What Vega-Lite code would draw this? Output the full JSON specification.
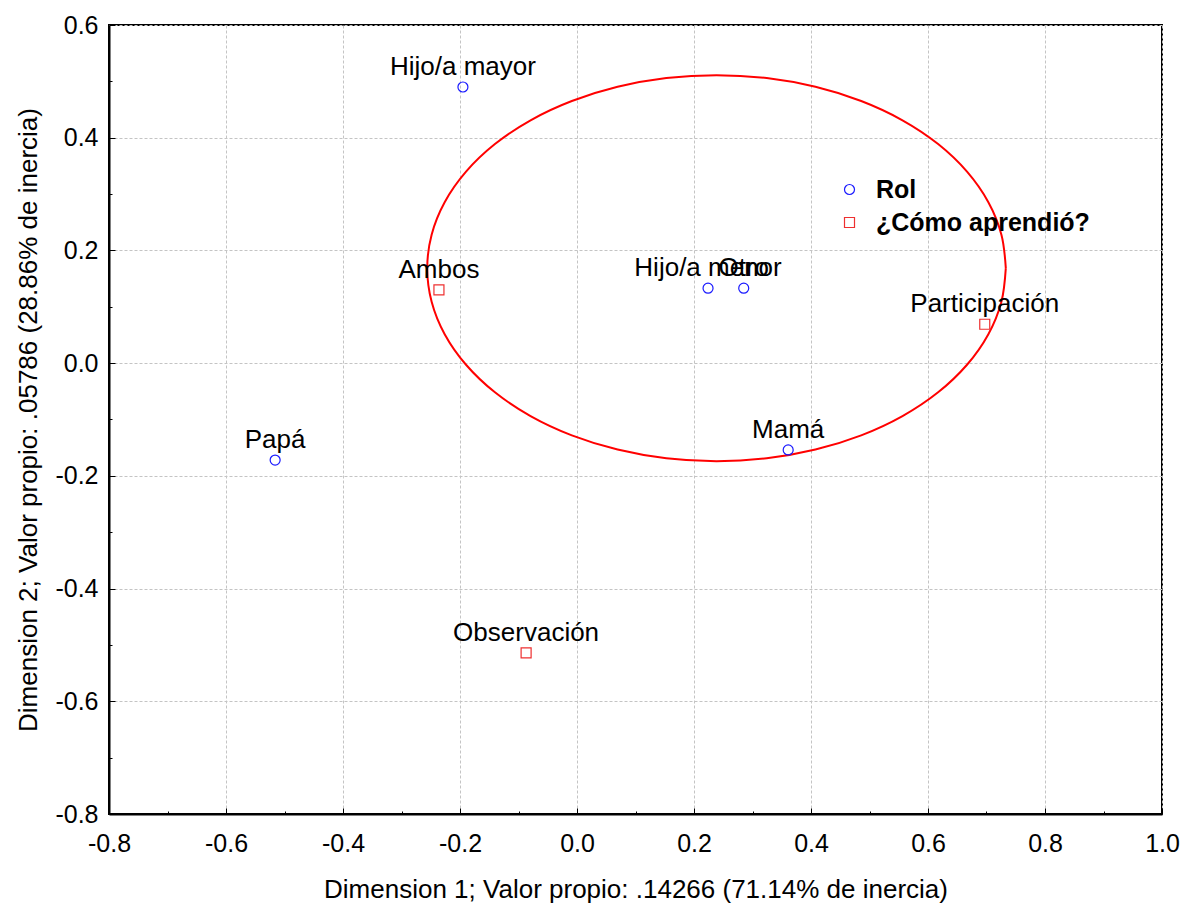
{
  "$schema": "https://vega.github.io/schema/vega-lite/v6.json",
  "width": 1053,
  "height": 789,
  "autosize": {"type": "none"},
  "padding": {"left": 109, "top": 25, "right": 22, "bottom": 91},
  "background": "white",
  "config": {
    "font": "Liberation Sans",
    "view": {"stroke": "#000000", "strokeWidth": 2},
    "axis": {
      "domainColor": "#000000",
      "domainWidth": 2,
      "tickColor": "#000000",
      "tickWidth": 1,
      "gridColor": "#c4c4c4",
      "gridDash": [3, 2],
      "gridWidth": 1,
      "labelFont": "Liberation Sans",
      "labelFontSize": 25,
      "labelColor": "#000000",
      "titleFont": "Liberation Sans",
      "titleFontSize": 26,
      "titleFontWeight": "normal",
      "titleColor": "#000000"
    }
  },
  "datasets": {
    "ellipse": [
      {"i": 0, "x": 0.7330, "y": 0.1685},
      {"i": 1, "x": 0.7255, "y": 0.2280},
      {"i": 2, "x": 0.7032, "y": 0.2856},
      {"i": 3, "x": 0.6667, "y": 0.3398},
      {"i": 4, "x": 0.6173, "y": 0.3887},
      {"i": 5, "x": 0.5564, "y": 0.4309},
      {"i": 6, "x": 0.4858, "y": 0.4651},
      {"i": 7, "x": 0.4076, "y": 0.4903},
      {"i": 8, "x": 0.3243, "y": 0.5058},
      {"i": 9, "x": 0.2385, "y": 0.5110},
      {"i": 10, "x": 0.1527, "y": 0.5058},
      {"i": 11, "x": 0.0694, "y": 0.4903},
      {"i": 12, "x": -0.0088, "y": 0.4651},
      {"i": 13, "x": -0.0794, "y": 0.4309},
      {"i": 14, "x": -0.1403, "y": 0.3887},
      {"i": 15, "x": -0.1897, "y": 0.3398},
      {"i": 16, "x": -0.2262, "y": 0.2856},
      {"i": 17, "x": -0.2485, "y": 0.2280},
      {"i": 18, "x": -0.2560, "y": 0.1685},
      {"i": 19, "x": -0.2485, "y": 0.1090},
      {"i": 20, "x": -0.2262, "y": 0.0514},
      {"i": 21, "x": -0.1897, "y": -0.0028},
      {"i": 22, "x": -0.1403, "y": -0.0517},
      {"i": 23, "x": -0.0794, "y": -0.0939},
      {"i": 24, "x": -0.0088, "y": -0.1281},
      {"i": 25, "x": 0.0694, "y": -0.1533},
      {"i": 26, "x": 0.1527, "y": -0.1688},
      {"i": 27, "x": 0.2385, "y": -0.1740},
      {"i": 28, "x": 0.3243, "y": -0.1688},
      {"i": 29, "x": 0.4076, "y": -0.1533},
      {"i": 30, "x": 0.4858, "y": -0.1281},
      {"i": 31, "x": 0.5564, "y": -0.0939},
      {"i": 32, "x": 0.6173, "y": -0.0517},
      {"i": 33, "x": 0.6667, "y": -0.0028},
      {"i": 34, "x": 0.7032, "y": 0.0514},
      {"i": 35, "x": 0.7255, "y": 0.1090},
      {"i": 36, "x": 0.7330, "y": 0.1685}
    ],
    "points": [
      {"label": "Hijo/a mayor", "grupo": "Rol", "x": -0.195, "y": 0.490},
      {"label": "Hijo/a menor", "grupo": "Rol", "x": 0.224, "y": 0.133},
      {"label": "Otro", "grupo": "Rol", "x": 0.285, "y": 0.133},
      {"label": "Mamá", "grupo": "Rol", "x": 0.361, "y": -0.154},
      {"label": "Papá", "grupo": "Rol", "x": -0.516, "y": -0.172},
      {"label": "Ambos", "grupo": "¿Cómo aprendió?", "x": -0.236, "y": 0.130},
      {"label": "Participación", "grupo": "¿Cómo aprendió?", "x": 0.697, "y": 0.069},
      {"label": "Observación", "grupo": "¿Cómo aprendió?", "x": -0.087, "y": -0.514}
    ]
  },
  "layer": [
    {
      "data": {"name": "ellipse"},
      "mark": {"type": "line", "color": "#ff0000", "strokeWidth": 2, "interpolate": "cardinal"},
      "encoding": {
        "x": {
          "field": "x",
          "type": "quantitative",
          "scale": {"domain": [-0.8, 1.0], "nice": false, "zero": false},
          "axis": {
            "title": "Dimension 1; Valor propio: .14266 (71.14% de inercia)",
            "values": [-0.8, -0.7, -0.6, -0.5, -0.4, -0.3, -0.2, -0.1, 0, 0.1, 0.2, 0.3, 0.4, 0.5, 0.6, 0.7, 0.8, 0.9, 1.0],
            "labelExpr": "abs(round(datum.value*10)) % 2 == 1 ? '' : replace(format(datum.value, '.1f'), '\u2212', '-')",
            "tickSize": {"condition": {"test": "abs(round(datum.value*10)) % 2 == 1", "value": -3}, "value": -6},
            "gridOpacity": {"condition": {"test": "abs(round(datum.value*10)) % 2 == 1", "value": 0}, "value": 1},
            "labelPadding": 23,
            "labelFlush": false,
            "labelOverlap": false,
            "titleY": 83,
            "titleBaseline": "alphabetic"
          }
        },
        "y": {
          "field": "y",
          "type": "quantitative",
          "scale": {"domain": [-0.8, 0.6], "nice": false, "zero": false},
          "axis": {
            "title": "Dimension 2; Valor propio: .05786 (28.86% de inercia)",
            "values": [-0.8, -0.7, -0.6, -0.5, -0.4, -0.3, -0.2, -0.1, 0, 0.1, 0.2, 0.3, 0.4, 0.5, 0.6],
            "labelExpr": "abs(round(datum.value*10)) % 2 == 1 ? '' : replace(format(datum.value, '.1f'), '\u2212', '-')",
            "tickSize": {"condition": {"test": "abs(round(datum.value*10)) % 2 == 1", "value": -3}, "value": -6},
            "gridOpacity": {"condition": {"test": "abs(round(datum.value*10)) % 2 == 1", "value": 0}, "value": 1},
            "labelPadding": 17,
            "labelFlush": false,
            "labelOverlap": false,
            "titleX": -73,
            "titleAngle": -90,
            "titleAlign": "center",
            "titleBaseline": "alphabetic"
          }
        },
        "order": {"field": "i", "type": "quantitative"}
      }
    },
    {
      "data": {"name": "points"},
      "mark": {"type": "point", "filled": false, "size": 100, "strokeWidth": 1.2, "opacity": 1},
      "encoding": {
        "x": {"field": "x", "type": "quantitative"},
        "y": {"field": "y", "type": "quantitative"},
        "color": {
          "field": "grupo",
          "type": "nominal",
          "scale": {"domain": ["Rol", "¿Cómo aprendió?"], "range": ["#1a1aff", "#ee3030"]},
          "legend": {
            "orient": "none",
            "legendX": 728,
            "legendY": 152,
            "title": null,
            "labelFont": "Liberation Sans",
            "labelFontSize": 25,
            "labelFontWeight": "bold",
            "labelColor": "#000000",
            "labelOffset": 14,
            "labelLimit": 400,
            "rowPadding": 7,
            "symbolSize": 100,
            "symbolStrokeWidth": 1.2,
            "labelExpr": "datum.label == 'Rol' ? 'Rol' : '\u00a0\u00a0' + datum.label"
          }
        },
        "shape": {
          "field": "grupo",
          "type": "nominal",
          "scale": {"domain": ["Rol", "¿Cómo aprendió?"], "range": ["circle", "square"]},
          "legend": {
            "orient": "none",
            "legendX": 728,
            "legendY": 152,
            "title": null,
            "labelFont": "Liberation Sans",
            "labelFontSize": 25,
            "labelFontWeight": "bold",
            "labelColor": "#000000",
            "labelOffset": 14,
            "labelLimit": 400,
            "rowPadding": 7,
            "symbolSize": 100,
            "symbolStrokeWidth": 1.2,
            "labelExpr": "datum.label == 'Rol' ? 'Rol' : '\u00a0\u00a0' + datum.label"
          }
        }
      }
    },
    {
      "data": {"name": "points"},
      "mark": {"type": "text", "font": "Liberation Sans", "fontSize": 26, "color": "#000000", "align": "center", "baseline": "alphabetic", "dy": -12},
      "encoding": {
        "x": {"field": "x", "type": "quantitative"},
        "y": {"field": "y", "type": "quantitative"},
        "text": {"field": "label", "type": "nominal"}
      }
    }
  ]
}
